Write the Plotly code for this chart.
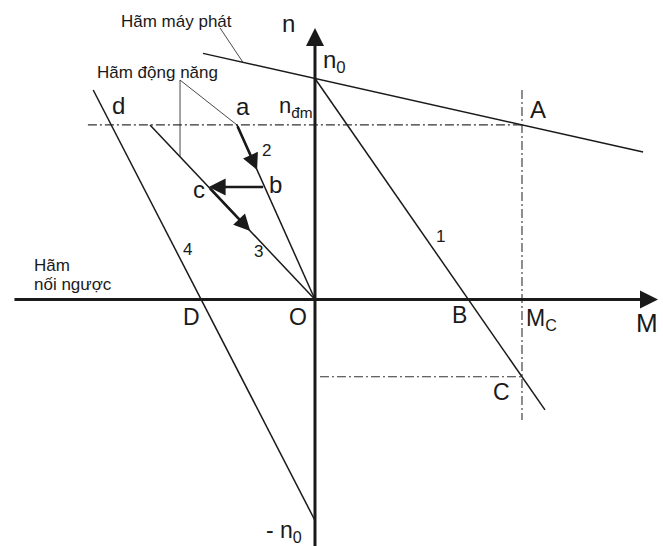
import plotly.graph_objects as go

# Mechanical characteristics of a DC motor in braking modes (per-unit values)
N0 = 1.0           # ideal no-load speed n0
N_DM = 0.79        # rated speed n_dm
M_C = 1.0          # load torque Mc
M_B = 0.741        # characteristic 1 crosses n = 0 at B
M_D = -0.55        # plugging characteristic 4 crosses n = 0 at D
M_A2 = -0.377      # point a: start of dynamic-braking line 2
M_A3 = -0.797      # start of dynamic-braking line 3
N_BC = 0.509       # speed level of the b -> c switch
N_ARR2 = 0.586     # end of the motion arrow along line 2
N_ARR3 = 0.31      # end of the motion arrow along line 3

gen_M = [-0.541, 1.585]        # regenerative braking line extent
line1_M = [0.0, 1.111]         # natural characteristic 1 extent
line4_N = [0.948, -N0]         # plugging characteristic 4 extent
ndm_M = [-1.097, M_C]          # dash-dot rated speed line
mc_N = [0.948, -0.545]         # dash-dot load torque line
c_M = [0.024, M_C]             # dash-dot line through C
axis_M = [-1.459, 1.657]
axis_N = [-1.25, 1.228]

INK = "#1a1a1a"
FONT = "Liberation Sans, Arial, sans-serif"


def gen_n(m):
    return N0 - (N0 - N_DM) / M_C * m


def line1_n(m):
    return N0 * (1 - m / M_B)


def line4_m(n):
    return M_D * (1 + n / N0)


def ray_m(m_start, n):
    return m_start * n / N_DM


fig = go.Figure()


def seg(xs, ys, width=1.5, dash=None, color=INK):
    fig.add_trace(go.Scatter(
        x=xs, y=ys, mode="lines", hoverinfo="skip", showlegend=False,
        line=dict(color=color, width=width, dash=dash)))


DASHDOT = "9px,3px,2px,3px"
seg(ndm_M, [N_DM, N_DM], 1.1, DASHDOT, "#333")
seg([M_C, M_C], mc_N, 1.1, DASHDOT, "#333")
seg(c_M, [line1_n(M_C)] * 2, 1.1, DASHDOT, "#333")

seg(gen_M, [gen_n(m) for m in gen_M])
seg(line1_M, [line1_n(m) for m in line1_M])
seg([M_A2, 0], [N_DM, 0])
seg([M_A3, 0], [N_DM, 0])
seg([line4_m(n) for n in line4_N], line4_N)

# leader lines for the captions
lead_gen = (-0.459, 1.229)
lead_dyn = (-0.652, 0.993)
seg([lead_gen[0], -0.348], [lead_gen[1], gen_n(-0.348)], 0.8)
seg([lead_dyn[0], lead_dyn[0]], [lead_dyn[1], N_DM * lead_dyn[0] / M_A3], 0.8)
seg([lead_dyn[0], M_A2], [lead_dyn[1], N_DM], 0.8)

annotations = []


def arrow(x0, y0, x1, y1, width=3, size=1.2):
    annotations.append(dict(
        x=x1, y=y1, ax=x0, ay=y0, xref="x", yref="y", axref="x", ayref="y",
        text="", showarrow=True, arrowhead=2, arrowsize=size,
        arrowwidth=width, arrowcolor=INK, standoff=0, startstandoff=0))


# axes
arrow(axis_M[0], 0, axis_M[1], 0, 3, 1.2)
arrow(0, axis_N[0], 0, axis_N[1], 3, 1.2)

# transition arrows a -> b -> c -> along 3
arrow(M_A2, N_DM, ray_m(M_A2, N_ARR2), N_ARR2, 2.6, 1.25)
arrow(ray_m(M_A2, N_BC), N_BC, ray_m(M_A3, N_BC), N_BC, 2.6, 1.3)
arrow(ray_m(M_A3, N_BC), N_BC, ray_m(M_A3, N_ARR3), N_ARR3, 2.6, 1.25)


def label(x, y, text, size=22, xanchor="center"):
    annotations.append(dict(
        x=x, y=y, xref="x", yref="y", text=text, showarrow=False,
        xanchor=xanchor, yanchor="middle",
        font=dict(family=FONT, size=size, color=INK)))


label(-0.126, 1.25, "n", 24)
label(0.095, 1.075, "n<sub>0</sub>", 24)
label(-0.09, 0.87, "n<sub>đm</sub>", 22)
label(1.077, 0.858, "A", 24)
label(-0.348, 0.872, "a", 24)
label(-0.947, 0.876, "d", 24)
label(-0.232, 0.675, "2", 17)
label(-0.192, 0.52, "b", 24)
label(-0.562, 0.5, "c", 24)
label(-0.275, 0.218, "3", 17)
label(-0.618, 0.226, "4", 17)
label(0.604, 0.286, "1", 17)
label(-0.599, -0.079, "D", 23)
label(-0.082, -0.079, "O", 23)
label(0.70, -0.072, "B", 23)
label(1.095, -0.09, "M<sub>C</sub>", 23)
label(1.604, -0.106, "M", 26)
label(0.903, -0.42, "C", 23)
label(-0.15, -1.05, "- n<sub>0</sub>", 23)
label(-0.671, 1.256, "Hãm máy phát", 17)
label(-0.763, 1.029, "Hãm động năng", 17)
label(-1.367, 0.152, "Hãm", 17, "left")
label(-1.367, 0.066, "nối ngược", 17, "left")

fig.update_layout(
    width=663, height=546, margin=dict(l=0, r=0, t=0, b=0),
    paper_bgcolor="white", plot_bgcolor="white",
    xaxis=dict(range=[-1.5217, 1.6812], visible=False, fixedrange=True),
    yaxis=dict(range=[-1.1154, 1.3552], visible=False, fixedrange=True),
    annotations=annotations, showlegend=False)

fig.write_html("out.html")
